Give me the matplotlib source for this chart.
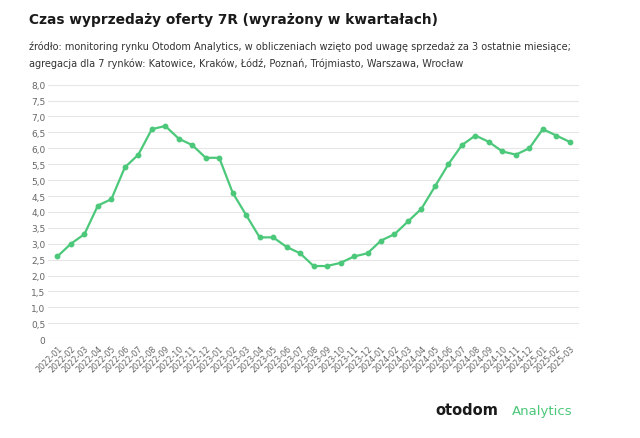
import matplotlib
matplotlib.use("Agg")
import matplotlib.pyplot as plt

months = ["2022-01","2022-02","2022-03","2022-04","2022-05","2022-06","2022-07","2022-08","2022-09","2022-10","2022-11","2022-12",
          "2023-01","2023-02","2023-03","2023-04","2023-05","2023-06","2023-07","2023-08","2023-09","2023-10","2023-11","2023-12",
          "2024-01","2024-02","2024-03","2024-04","2024-05","2024-06","2024-07","2024-08","2024-09","2024-10","2024-11","2024-12",
          "2025-01","2025-02","2025-03"]
values = [2.6,3.0,3.3,4.2,4.4,5.4,5.8,6.6,6.7,6.3,6.1,5.7,
          5.7,4.6,3.9,3.2,3.2,2.9,2.7,2.3,2.3,2.4,2.6,2.7,
          3.1,3.3,3.7,4.1,4.8,5.5,6.1,6.4,6.2,5.9,5.8,6.0,
          6.6,6.4,6.2]
yticks = [0,0.5,1,1.5,2,2.5,3,3.5,4,4.5,5,5.5,6,6.5,7,7.5,8]
ylabels = ["0" if v == 0 else f"{v:.1f}".replace(".", ",") for v in yticks]

fig = plt.figure(figsize=(6.4, 4.39), dpi=100)
ax = fig.add_axes([0.075, 0.225, 0.83, 0.58])
green = "#4cc87a"
x = range(len(months))
ax.plot(x, values, color=green, lw=1.6, marker="o", ms=3.2)
ax.set_ylim(0, 8)
ax.set_xlim(-0.7, len(months) - 0.3)
ax.set_yticks(yticks)
ax.set_yticklabels(ylabels, fontsize=6.5, color="#666666")
ax.set_xticks(list(x))
ax.set_xticklabels(months, rotation=45, ha="right", rotation_mode="anchor", fontsize=5.8, color="#666666")
ax.grid(axis="y", color="#e6e6e6", lw=0.8)
ax.set_axisbelow(True)
for s in ax.spines.values():
    s.set_visible(False)
ax.tick_params(length=0, pad=3)
ax.yaxis.set_tick_params(pad=2)

fig.text(0.045, 0.945, "Czas wyprzedaży oferty 7R (wyrażony w kwartałach)", fontsize=9.9, fontweight="bold", color="#1a1a1a")
fig.text(0.045, 0.885, "źródło: monitoring rynku Otodom Analytics, w obliczeniach wzięto pod uwagę sprzedaż za 3 ostatnie miesiące;", fontsize=7.0, color="#333333")
fig.text(0.045, 0.848, "agregacja dla 7 rynków: Katowice, Kraków, Łódź, Poznań, Trójmiasto, Warszawa, Wrocław", fontsize=7.0, color="#333333")
fig.text(0.68, 0.055, "otodom", fontsize=10.5, fontweight="bold", color="#1a1a1a")
fig.text(0.80, 0.055, "Analytics", fontsize=9.5, color=green)
fig.savefig("out.png", dpi=100, facecolor="white")
